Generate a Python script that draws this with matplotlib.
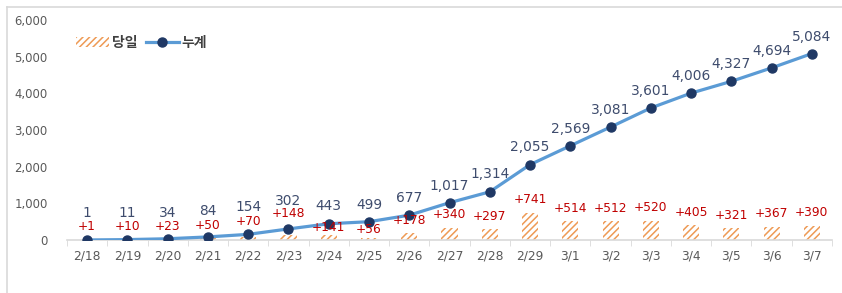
import matplotlib.pyplot as plt
from matplotlib.lines import Line2D

plt.rcParams['font.family'] = ['DejaVu Sans', 'Noto Sans CJK KR']
plt.rcParams['hatch.linewidth'] = 1.1

dates = ['2/18', '2/19', '2/20', '2/21', '2/22', '2/23', '2/24', '2/25', '2/26', '2/27',
         '2/28', '2/29', '3/1', '3/2', '3/3', '3/4', '3/5', '3/6', '3/7']
daily = [1, 10, 23, 50, 70, 148, 141, 56, 178, 340, 297, 741, 514, 512, 520, 405, 321, 367, 390]
total = [1, 11, 34, 84, 154, 302, 443, 499, 677, 1017, 1314, 2055, 2569, 3081, 3601, 4006,
         4327, 4694, 5084]
yticks = [0, 1000, 2000, 3000, 4000, 5000, 6000]

# label offsets above the mark, in pixels
total_off = [27, 27, 26, 26, 27, 28, 18, 17, 17, 17, 18, 18, 17, 17, 17, 17, 17, 17, 17]
daily_off = [13, 13, 13, 13, 16, 21, 7, 8, 13, 13, 13, 13, 13, 13, 13, 13, 13, 13, 13]

BLUE = '#5b9bd5'
NAVY = '#1f3864'
ORANGE = '#ee9a55'
LABEL = '#3e4c6d'
RED = '#c00000'
GRAY = '#595959'

fig = plt.figure(figsize=(8.42, 2.93), dpi=100)
ax = fig.add_axes([67/842, 53/293, 765/842, 220/293])

x = list(range(len(dates)))
bars = ax.bar(x, daily, width=0.4, color='white', edgecolor=ORANGE, hatch='/////',
              linewidth=0, label='당일', zorder=2)
line, = ax.plot(x, total, color=BLUE, lw=2.3, marker='o', markersize=6.5,
                markerfacecolor=NAVY, markeredgecolor=NAVY, label='누계', zorder=3)

px = 72 / 100
for i in x:
    ax.annotate(f'{total[i]:,}', (i, total[i]), xytext=(0, total_off[i] * px),
                textcoords='offset points', ha='center', va='center',
                fontsize=9.9, color=LABEL, zorder=4)
    ax.annotate(f'+{daily[i]}', (i, daily[i]), xytext=(0, daily_off[i] * px),
                textcoords='offset points', ha='center', va='center',
                fontsize=8.8, color=RED, zorder=4)

ax.set_xlim(-0.5, len(dates) - 0.5)
ax.set_ylim(0, 6000)
ax.set_yticks(yticks)
ax.set_yticklabels([f'{v:,}' for v in yticks])
ax.set_xticks(x)
ax.set_xticklabels(dates)
ax.set_xticks([i + 0.5 for i in range(-1, len(dates))], minor=True)

for s in ['top', 'right', 'left']:
    ax.spines[s].set_visible(False)
ax.spines['bottom'].set_color('#d9d9d9')
ax.spines['bottom'].set_linewidth(1.2)
ax.tick_params(axis='y', length=0, labelsize=8.4, labelcolor=GRAY, pad=14)
ax.tick_params(axis='x', which='major', length=0, labelsize=8.8, labelcolor=GRAY, pad=7)
ax.tick_params(axis='x', which='minor', length=4, color='#d9d9d9')

leg = ax.legend([bars, line], ['당일', '누계'], loc='center left',
                bbox_to_anchor=(-0.005, 0.895), ncol=2, frameon=False,
                handlelength=2.4, handletextpad=0.2, columnspacing=0.6,
                prop={'family': 'Noto Sans CJK KR', 'size': 10, 'weight': 'bold'})
for t in leg.get_texts():
    t.set_color('#404040')

# chart area border
fig.add_artist(Line2D([7/842, 7/842], [0, 1 - 7/293], color='#d9d9d9', lw=1.2))
fig.add_artist(Line2D([7/842, 1], [1 - 7/293, 1 - 7/293], color='#d9d9d9', lw=1.2))

fig.savefig('out.png', dpi=100)
